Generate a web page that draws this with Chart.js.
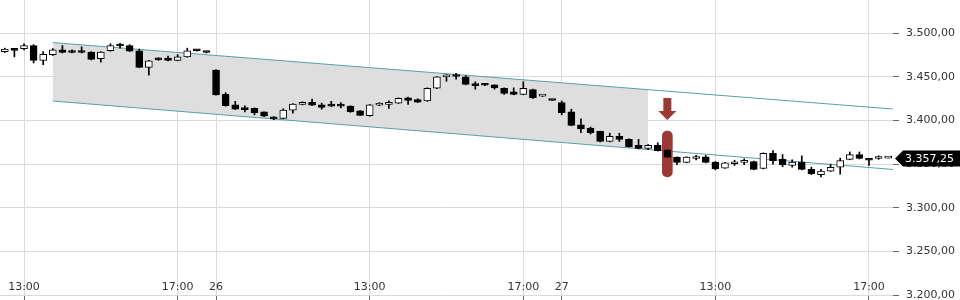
<!DOCTYPE html>
<html>
<head>
<meta charset="utf-8">
<script src="https://cdn.jsdelivr.net/npm/chart.js@4"></script>
<style>
  html, body { margin: 0; padding: 0; background: #fff; }
  #wrap { width: 960px; height: 300px; position: relative; }
</style>
</head>
<body>
<div id="wrap"><canvas id="priceChart"></canvas></div>
<script>
// 15 minute candles, 25th 12:30 -> 27th 17:30
const times = [
  "12:30","12:45","13:00","13:15","13:30","13:45","14:00","14:15","14:30","14:45","15:00","15:15",
  "15:30","15:45","16:00","16:15","16:30","16:45","17:00","17:15","17:30","17:45",
  "09:00","09:15","09:30","09:45","10:00","10:15","10:30","10:45","11:00","11:15","11:30","11:45",
  "12:00","12:15","12:30","12:45","13:00","13:15","13:30","13:45","14:00","14:15","14:30","14:45",
  "15:00","15:15","15:30","15:45","16:00","16:15","16:30","16:45","17:00","17:15","17:30","17:45",
  "09:00","09:15","09:30","09:45","10:00","10:15","10:30","10:45","11:00","11:15","11:30","11:45",
  "12:00","12:15","12:30","12:45","13:00","13:15","13:30","13:45","14:00","14:15","14:30","14:45",
  "15:00","15:15","15:30","15:45","16:00","16:15","16:30","16:45","17:00","17:15","17:30"
];

const open = [
  3479, 3481.5, 3482.5, 3486, 3469, 3475.5, 3481, 3480, 3480, 3478.5, 3471, 3480,
  3486, 3486, 3480, 3461, 3471.5, 3471.5, 3469, 3473, 3480.5, 3478.5,
  3458, 3430, 3418, 3414, 3414, 3410, 3403.5, 3402.5, 3412, 3418.5, 3421, 3418,
  3418, 3418, 3416.5, 3411, 3405.5, 3417.5, 3418.5, 3420, 3426, 3424, 3422.5, 3437,
  3450, 3451, 3450, 3442, 3441, 3441, 3437, 3433, 3430, 3435.5, 3428, 3423.5,
  3420.5, 3410, 3395, 3391.5, 3387.5, 3376, 3382, 3378.5, 3371.5, 3368, 3371.5, 3366,
  3358, 3352, 3356.5, 3358.5, 3352.5, 3345.5, 3350.5, 3352, 3353, 3345, 3362.5, 3355.5,
  3348.5, 3352.5, 3344, 3338, 3342, 3346.5, 3355.5, 3361, 3355, 3356.5, 3357
];
const high = [
  3483, 3482, 3488, 3487, 3479, 3482.5, 3486, 3481, 3484.5, 3479, 3479, 3488,
  3488.5, 3487, 3482, 3469, 3472, 3474, 3475.5, 3483, 3481, 3478.5,
  3458.5, 3432, 3422, 3417, 3414.5, 3410, 3404.5, 3413.5, 3419.5, 3421.5, 3424.5, 3420,
  3422, 3420.5, 3417, 3411.5, 3418.5, 3420.5, 3422.5, 3426, 3427, 3425, 3437.5, 3450.5,
  3452.5, 3454, 3451.5, 3444.5, 3442, 3441, 3437.5, 3437.5, 3444.5, 3436, 3428.5, 3423.5,
  3422.5, 3413, 3402, 3392.5, 3388, 3385.5, 3385.5, 3379, 3378.5, 3372.5, 3374.5, 3366.5,
  3358.5, 3358.5, 3360, 3360, 3353, 3352, 3354.5, 3356, 3353.5, 3363, 3365.5, 3361,
  3355, 3359.5, 3346.5, 3344, 3350, 3357, 3364, 3364, 3355.5, 3359.5, 3357.5
];
const low = [
  3478, 3473, 3481, 3466, 3464, 3474.5, 3477.5, 3477.5, 3477.5, 3469.5, 3467, 3479.5,
  3483, 3479, 3460.5, 3452, 3469, 3468.5, 3468.5, 3472.5, 3479.5, 3477.5,
  3429, 3416.5, 3412.5, 3410, 3406.5, 3404.5, 3401, 3402, 3408.5, 3418, 3417, 3413,
  3416, 3414.5, 3409.5, 3405.5, 3405, 3417, 3414, 3419.5, 3418.5, 3420.5, 3422, 3436.5,
  3445, 3447.5, 3441, 3436, 3440, 3436, 3430, 3429.5, 3429.5, 3425.5, 3427.5, 3423,
  3406.5, 3394, 3386, 3384.5, 3375.5, 3375.5, 3376, 3369.5, 3367.5, 3366.5, 3365, 3357.5,
  3349.5, 3351.5, 3355, 3351.5, 3343.5, 3345, 3348.5, 3349.5, 3343.5, 3344.5, 3350, 3347,
  3346.5, 3343.5, 3338, 3335.5, 3341.5, 3338.5, 3355, 3356, 3348.5, 3355.5, 3357
];
const close = [
  3482, 3480.5, 3486, 3469, 3476, 3481, 3478, 3478, 3478, 3470, 3478.5, 3486,
  3485.5, 3479.5, 3461, 3468.5, 3469.5, 3469, 3473, 3480, 3480, 3478,
  3429.5, 3417, 3413, 3412.5, 3409, 3405, 3402, 3412, 3419, 3421, 3417.5, 3415,
  3416.5, 3416.5, 3410, 3406, 3418, 3420, 3419, 3425.5, 3423, 3421, 3437, 3450,
  3451, 3450.5, 3441.5, 3440, 3440.5, 3437.5, 3431, 3430, 3437, 3426, 3428, 3423,
  3409, 3394.5, 3390.5, 3386, 3376, 3382, 3378.5, 3370, 3368, 3371.5, 3365.5, 3358,
  3352, 3358, 3357.5, 3352, 3344.5, 3351.5, 3351.5, 3353, 3344, 3362.5, 3354, 3349.5,
  3352.5, 3344, 3339, 3342, 3346.5, 3354, 3361, 3356.5, 3354.5, 3358.5, 3357.25
];

// x axis labels (candle index -> text)
const xTickIdx = [2, 18, 22, 38, 54, 58, 74, 90];
const xTickLabels = ["13:00", "17:00", "26", "13:00", "17:00", "27", "13:00", "17:00"];
const yTicks = [3200, 3250, 3300, 3350, 3400, 3450, 3500];

// trend channel (start / end candle index and prices)
const channelX = [5, 92.5];
const channelUpper = [3489.4, 3413.2];
const channelLower = [3422.4, 3343.9];
const shadeX = [5, 67];
const shadeUpper = [3489.4, 3435.4];
const shadeLower = [3422.4, 3366.8];

// signal marker at candle 69
const markerIdx = 69;
const markerRange = [3335.3, 3388];
const arrowTop = 3425.8, arrowNeck = 3410.9, arrowTip = 3400.6;

const FONT = "'DejaVu Sans', Verdana, sans-serif";
const RED = "#9b3a34";
const TEAL = "#5c9fa0";

function fmt(v) {
  const parts = v.toFixed(2).split(".");
  return parts[0].replace(/\B(?=(\d{3})+(?!\d))/g, ".") + "," + parts[1];
}

const pts = (xs, ys) => xs.map((x, i) => ({ x: x, y: ys[i] }));

const overlayPlugin = {
  id: "overlay",
  beforeDatasetsDraw(chart) {
    const { ctx, scales: { x, y } } = chart;
    // down arrow above the marker
    const cx = x.getPixelForValue(markerIdx);
    const yTop = y.getPixelForValue(arrowTop);
    const yNeck = y.getPixelForValue(arrowNeck);
    const yTip = y.getPixelForValue(arrowTip);
    ctx.save();
    ctx.fillStyle = RED;
    ctx.beginPath();
    ctx.moveTo(cx - 4, yTop);
    ctx.lineTo(cx + 4, yTop);
    ctx.lineTo(cx + 4, yNeck);
    ctx.lineTo(cx + 9, yNeck);
    ctx.lineTo(cx, yTip);
    ctx.lineTo(cx - 9, yNeck);
    ctx.lineTo(cx - 4, yNeck);
    ctx.closePath();
    ctx.fill();
    ctx.restore();
  },
  afterDraw(chart) {
    const { ctx, chartArea, scales: { x, y } } = chart;
    ctx.save();
    // time labels sit inside the plot, above the bottom line
    ctx.font = "11px " + FONT;
    ctx.fillStyle = "#333";
    ctx.textAlign = "center";
    ctx.textBaseline = "middle";
    xTickIdx.forEach((idx, i) => {
      ctx.fillText(xTickLabels[i], x.getPixelForValue(idx), chartArea.bottom - 8);
    });
    // last price tag
    const last = close[close.length - 1];
    const py = Math.round(y.getPixelForValue(last)) + 0.5;
    const r = chartArea.right;
    ctx.fillStyle = "#000";
    ctx.beginPath();
    ctx.moveTo(r + 2, py);
    ctx.lineTo(r + 10, py - 8);
    ctx.lineTo(chart.width, py - 8);
    ctx.lineTo(chart.width, py + 8);
    ctx.lineTo(r + 10, py + 8);
    ctx.closePath();
    ctx.fill();
    ctx.fillStyle = "#fff";
    ctx.textAlign = "left";
    ctx.fillText(fmt(last), r + 12, py + 0.5);
    ctx.restore();
  }
};

const initChart = () => {
  const el = document.getElementById("priceChart");
  const idx = times.map((t, i) => i);
  const up = idx.map(i => close[i] >= open[i]);

  new Chart(el, {
    type: "bar",
    data: {
      datasets: [
        {
          label: "body",
          order: 0,
          data: idx.map(i => ({ x: i, y: [open[i], close[i]] })),
          backgroundColor: up.map(u => (u ? "#fff" : "#000")),
          borderColor: "#000",
          borderWidth: 1,
          borderSkipped: false,
          barThickness: 7,
          minBarLength: 2,
          grouped: false
        },
        {
          label: "wick",
          order: 1,
          data: idx.map(i => ({ x: i, y: [low[i], high[i]] })),
          backgroundColor: "#000",
          barThickness: 1,
          grouped: false
        },
        {
          label: "marker",
          order: 2,
          data: [{ x: markerIdx, y: markerRange }],
          backgroundColor: RED,
          borderRadius: 5,
          borderSkipped: false,
          barThickness: 10,
          grouped: false
        },
        {
          type: "line",
          label: "upper",
          order: 3,
          data: pts(channelX, channelUpper),
          borderColor: TEAL,
          borderWidth: 1,
          pointRadius: 0,
          fill: false
        },
        {
          type: "line",
          label: "lower",
          order: 4,
          data: pts(channelX, channelLower),
          borderColor: TEAL,
          borderWidth: 1,
          pointRadius: 0,
          fill: false
        },
        {
          type: "line",
          label: "shadeTop",
          order: 5,
          data: pts(shadeX, shadeUpper),
          borderWidth: 0,
          pointRadius: 0,
          fill: false
        },
        {
          type: "line",
          label: "shadeBottom",
          order: 6,
          data: pts(shadeX, shadeLower),
          borderWidth: 0,
          pointRadius: 0,
          backgroundColor: "#dedede",
          fill: "-1"
        }
      ]
    },
    options: {
      responsive: true,
      maintainAspectRatio: false,
      animation: false,
      layout: { padding: 0 },
      plugins: { legend: { display: false }, tooltip: { enabled: false } },
      scales: {
        x: {
          type: "linear",
          min: -0.5,
          max: times.length - 0.5,
          offset: false,
          afterBuildTicks: s => { s.ticks = xTickIdx.map(v => ({ value: v })); },
          afterFit: s => { s.height = 5; s.paddingLeft = 0; s.paddingRight = 0; },
          grid: { offset: false, color: "#dadada", tickColor: "#666", tickLength: 5 },
          border: { display: false },
          ticks: { display: false }
        },
        y: {
          position: "right",
          min: 3200,
          max: 3538.2,
          afterBuildTicks: s => { s.ticks = yTicks.map(v => ({ value: v })); },
          afterFit: s => { s.width = 67; s.paddingTop = 0; s.paddingBottom = 0; },
          grid: { color: "#dadada", tickColor: "#666", tickLength: 6 },
          border: { display: false },
          ticks: {
            padding: 7,
            color: "#333",
            font: { family: FONT, size: 11 },
            callback: v => fmt(v)
          }
        }
      }
    },
    plugins: [overlayPlugin]
  });
};

document.addEventListener("DOMContentLoaded", initChart);
</script>
</body>
</html>
